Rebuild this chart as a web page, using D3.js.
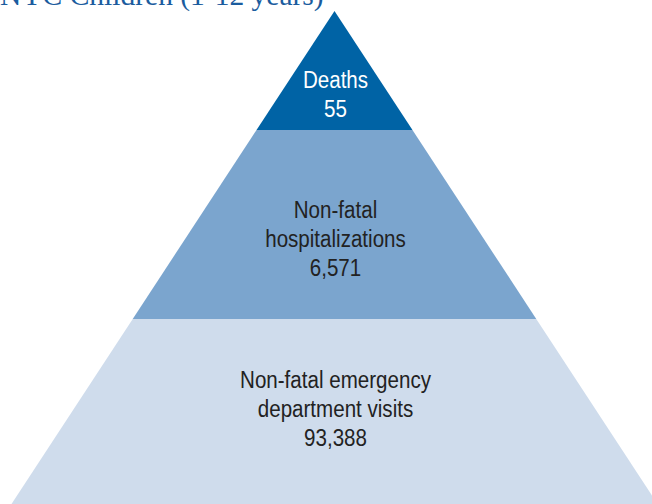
<!DOCTYPE html>
<html>
<head>
<meta charset="utf-8">
<script src="https://cdn.jsdelivr.net/npm/d3@7"></script>
<style>
  html, body { margin: 0; padding: 0; background: #fff; }
  svg { display: block; }
</style>
</head>
<body>
<div id="chart"></div>
<script>
// ---- data ----
const title = "NYC Children (1-12 years)";
const tiers = ["Deaths", "Non-fatal hospitalizations", "Non-fatal emergency department visits"];
const tierLines = [["Deaths"], ["Non-fatal", "hospitalizations"], ["Non-fatal emergency", "department visits"]];
const tierValues = [55, 6571, 93388];

// ---- layout ----
const W = 652, H = 504;
const cx = 334.5, apexY = 11, baseY = 504, halfBase = 323;
const breaks = [0, 0.2414, 0.6247, 1]; // tier boundaries as fraction of pyramid height
const colors = ["#0063a5", "#7ba5ce", "#cfdcec"];
const textColors = ["#ffffff", "#222222", "#222222"];
const textCenters = [0.70, 0.577, 0.489]; // text block center within each tier (fraction)

const svg = d3.select("#chart").append("svg").attr("width", W).attr("height", H);

const yScale = d3.scaleLinear().domain([0, 1]).range([apexY, baseY]);
const wScale = d3.scaleLinear().domain([0, 1]).range([0, halfBase]);
const fmt = d3.format(",");

const poly = (t0, t1) => {
  const y0 = yScale(t0), y1 = yScale(t1), w0 = wScale(t0), w1 = wScale(t1);
  return [[cx - w0, y0], [cx + w0, y0], [cx + w1, y1], [cx - w1, y1]];
};

const line = d3.line();
svg.selectAll("path.tier")
  .data(tiers)
  .join("path")
  .attr("class", "tier")
  .attr("d", (d, i) => line(poly(breaks[i], breaks[i + 1])) + "Z")
  .attr("fill", (d, i) => colors[i]);

const fontFam = "'Liberation Sans Narrow', 'Arial Narrow', 'Liberation Sans', Arial, sans-serif";
const lh = 29;
tiers.forEach((t, i) => {
  const lines = tierLines[i].concat([fmt(tierValues[i])]);
  const t0 = breaks[i], t1 = breaks[i + 1];
  const yc = yScale(t0 + (t1 - t0) * textCenters[i]);
  const firstBase = yc - (lines.length - 1) * lh / 2 + 8;
  const txt = svg.append("text")
    .attr("transform", `translate(${cx + 1},0) scale(0.84,1)`)
    .attr("text-anchor", "middle")
    .attr("font-family", fontFam)
    .attr("font-size", 24.5)
    .attr("fill", textColors[i]);
  lines.forEach((l, j) => {
    txt.append("tspan").attr("x", 0).attr("y", firstBase + j * lh).text(l);
  });
});

svg.append("text")
  .attr("x", 0).attr("y", 5)
  .attr("font-family", "'Liberation Serif', 'Times New Roman', serif")
  .attr("font-size", 29.5)
  .attr("fill", "#1b5c9e")
  .text(title);
</script>
</body>
</html>
